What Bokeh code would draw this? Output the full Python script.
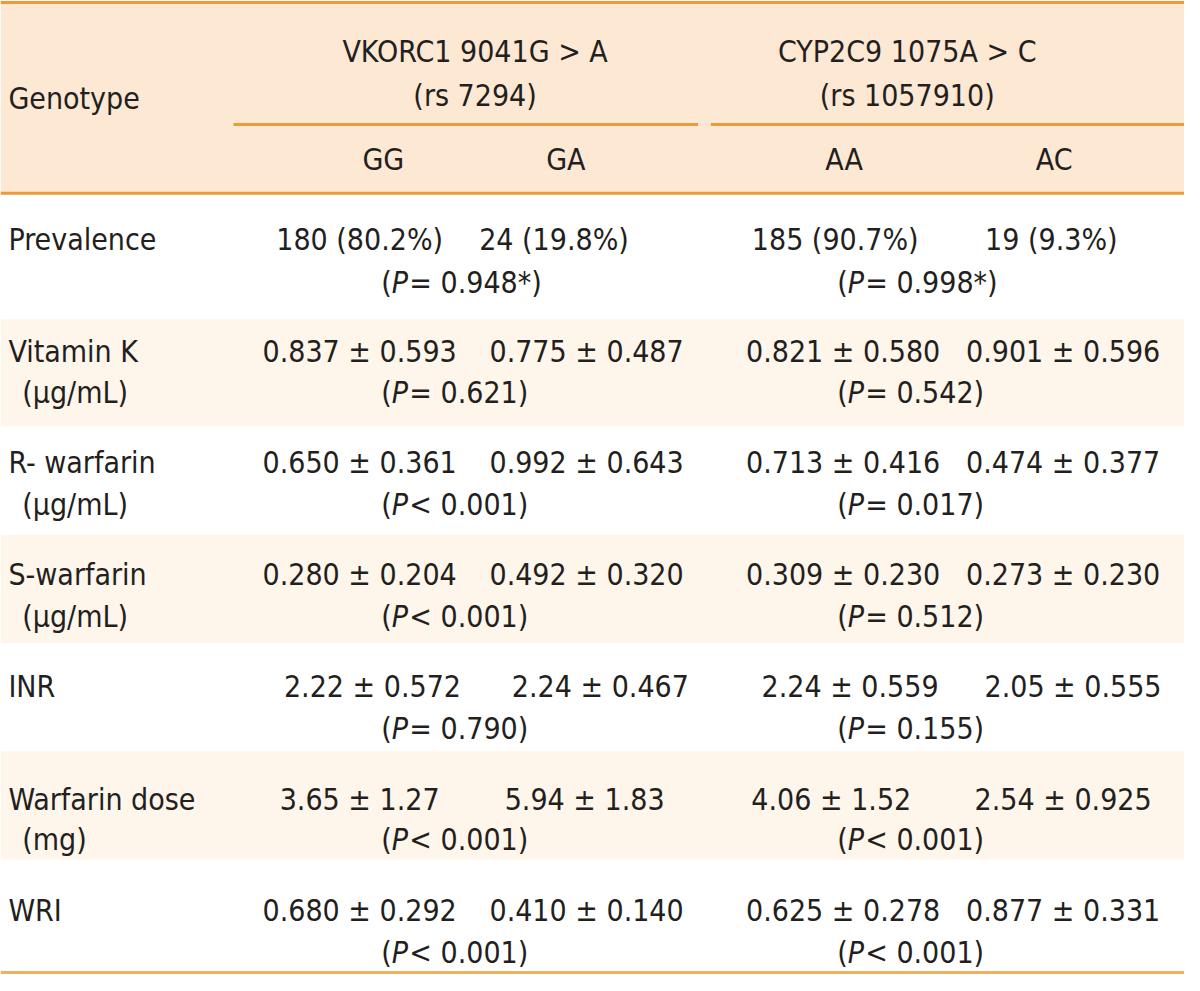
from bokeh.plotting import figure
from bokeh.models import Range1d
from bokeh.core.properties import value
from bokeh.embed import file_html
from bokeh.resources import INLINE

# ---------------- data ----------------
row_line1 = ["Prevalence", "Vitamin K", "R- warfarin", "S-warfarin", "INR", "Warfarin dose", "WRI"]
row_line2 = ["", "(µg/mL)", "(µg/mL)", "(µg/mL)", "", "(mg)", ""]
genotypes = ["GG", "GA", "AA", "AC"]
gene_titles = ["VKORC1 9041G > A", "CYP2C9 1075A > C"]
gene_rs = ["(rs 7294)", "(rs 1057910)"]
gg = ["180 (80.2%)", "0.837 ± 0.593", "0.650 ± 0.361", "0.280 ± 0.204", "2.22 ± 0.572", "3.65 ± 1.27", "0.680 ± 0.292"]
ga = ["24 (19.8%)", "0.775 ± 0.487", "0.992 ± 0.643", "0.492 ± 0.320", "2.24 ± 0.467", "5.94 ± 1.83", "0.410 ± 0.140"]
aa = ["185 (90.7%)", "0.821 ± 0.580", "0.713 ± 0.416", "0.309 ± 0.230", "2.24 ± 0.559", "4.06 ± 1.52", "0.625 ± 0.278"]
ac = ["19 (9.3%)", "0.901 ± 0.596", "0.474 ± 0.377", "0.273 ± 0.230", "2.05 ± 0.555", "2.54 ± 0.925", "0.877 ± 0.331"]
p_vkorc = ["= 0.948*)", "= 0.621)", "< 0.001)", "< 0.001)", "= 0.790)", "< 0.001)", "< 0.001)"]
p_cyp = ["= 0.998*)", "= 0.542)", "= 0.017)", "= 0.512)", "= 0.155)", "< 0.001)", "< 0.001)"]

# ---------------- layout (reference pixel frame) ----------------
W, H = 1200, 991
row_top = [197, 324, 433, 543, 653, 763, 873]
row_bot = [324, 433, 543, 653, 763, 873, 987]
y1 = [243, 357, 470, 583, 697, 812, 925]
y2 = [287, 398, 512, 626, 740, 853, 968]
col_x = {
    "GG": [364, 364, 364, 364, 377, 364, 364],
    "GA": [561, 594, 594, 594, 608, 592, 594],
    "AA": [846, 854, 854, 854, 861, 842, 854],
    "AC": [1065, 1077, 1077, 1077, 1087, 1077, 1077],
}
p_left = [386, 848]

FONT = value("DejaVu Sans Condensed")
FS = "30px"
TXT = "#231f20"
ORANGE = "#ee9a3a"
HEAD_BG = "#fde8d3"
SHADE = "#fef5eb"

p = figure(width=1184, height=975, output_backend="svg", toolbar_location=None,
           x_range=Range1d(0, W), y_range=Range1d(H, 0), min_border=0)
p.axis.visible = False
p.grid.visible = False
p.outline_line_color = None
p.background_fill_color = "white"
p.border_fill_color = "white"

# backgrounds
p.quad(left=[0], right=[W], top=[0], bottom=[196], fill_color=HEAD_BG, line_color=None)
sh = [i for i in range(len(row_top)) if i % 2 == 1]
p.quad(left=[0] * len(sh), right=[W] * len(sh), top=[row_top[i] for i in sh],
       bottom=[row_bot[i] for i in sh], fill_color=SHADE, line_color=None)

# rules
p.segment(x0=[0, 236, 720, 0], y0=[2, 126, 126, 196], x1=[W, 707, W, W], y1=[2, 126, 126, 196],
          line_color=ORANGE, line_width=3)
p.segment(x0=[0], y0=[988], x1=[W], y1=[988], line_color="#f0b060", line_width=3)

def txt(x, y, t, align="center", style="normal", xoff=0):
    p.text(x=x, y=y, text=t, text_font=FONT, text_font_size=FS, text_color=TXT,
           text_align=align, text_baseline="middle", text_font_style=style, x_offset=xoff)

# header
txt([8], [100], ["Genotype"], align="left")
txt([481, 919], [52, 52], gene_titles)
txt([481, 919], [97, 97], gene_rs)
txt([388, 573, 855, 1068], [162] * 4, genotypes)

# row labels
txt([8] * len(row_line1), y1, row_line1, align="left")
idx2 = [i for i, s in enumerate(row_line2) if s]
txt([22] * len(idx2), [y2[i] for i in idx2], [row_line2[i] for i in idx2], align="left")

# values
for g, vals in zip(genotypes, [gg, ga, aa, ac]):
    txt(col_x[g], y1, vals)

# P values: "(" + italic "P" + rest
for xl, pv in zip(p_left, [p_vkorc, p_cyp]):
    n = len(pv)
    txt([xl] * n, y2, ["("] * n, align="left")
    txt([xl] * n, y2, ["P"] * n, align="left", style="italic", xoff=10.5)
    txt([xl] * n, y2, pv, align="left", xoff=28)

open("out.html", "w").write(file_html(p, INLINE))
